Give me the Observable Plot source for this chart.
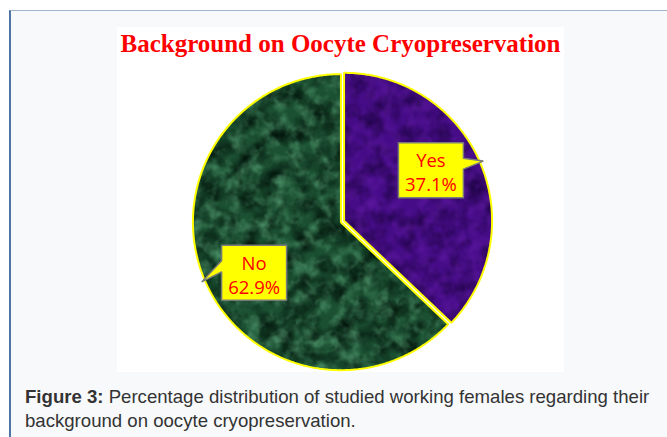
<!DOCTYPE html>
<html><head><meta charset="utf-8">
<script src="https://cdn.jsdelivr.net/npm/d3@7"></script>
<script src="https://cdn.jsdelivr.net/npm/@observablehq/plot@0.6"></script>
<style>
html,body{margin:0;padding:0;background:#fff;width:667px;height:437px;overflow:hidden;position:relative;}
#frame{position:absolute;left:9px;top:10px;width:680px;height:440px;border-left:2px solid #4f76a3;border-top:1px solid #9fb3cc;background:#f8f9fb;}
#card{position:absolute;left:117px;top:27px;width:447px;height:345px;background:#fff;}
#title{height:35px;line-height:33px;text-align:center;font-family:"Liberation Serif","Times New Roman",serif;font-weight:bold;font-size:25px;color:#ff0000;white-space:nowrap;}
#chart svg{display:block;}
#caption{position:absolute;left:25px;top:385px;font-family:"Liberation Sans",Arial,sans-serif;font-size:18.6px;line-height:23.5px;color:#333;white-space:nowrap;}
</style></head>
<body>
<div id="frame"></div>
<div id="card"><div id="title">Background on Oocyte Cryopreservation</div><div id="chart"></div></div>
<div id="caption"><b>Figure 3:</b> Percentage distribution of studied working females regarding their<br>background on oocyte cryopreservation.</div>
<svg width="0" height="0" style="position:absolute;left:0;top:0">
<defs>
<filter id="greenF" x="0" y="0" width="100%" height="100%" color-interpolation-filters="sRGB">
<feTurbulence type="fractalNoise" baseFrequency="0.05" numOctaves="4" seed="11" result="n"/>
<feColorMatrix in="n" type="matrix" values="0 0 0 0 0  0 0 0 0 0.06  0 0 0 0 0.03  1.8 0 0 0 -0.6" result="dark"/>
<feTurbulence type="fractalNoise" baseFrequency="0.07" numOctaves="3" seed="21" result="m"/>
<feColorMatrix in="m" type="matrix" values="0 0 0 0 0.35  0 0 0 0 0.65  0 0 0 0 0.47  1.6 0 0 0 -0.72" result="light"/>
<feTurbulence type="turbulence" baseFrequency="0.025" numOctaves="4" seed="5" result="t"/>
<feColorMatrix in="t" type="matrix" values="0 0 0 0 0.4  0 0 0 0 0.7  0 0 0 0 0.52  -1.6 0 0 0 0.3" result="veins"/>
<feMerge><feMergeNode in="SourceGraphic"/><feMergeNode in="dark"/><feMergeNode in="light"/><feMergeNode in="veins"/></feMerge>
</filter>
<filter id="purpleF" x="0" y="0" width="100%" height="100%" color-interpolation-filters="sRGB">
<feTurbulence type="fractalNoise" baseFrequency="0.06" numOctaves="3" seed="3" result="n"/>
<feColorMatrix in="n" type="matrix" values="0 0 0 0 0.08  0 0 0 0 0  0 0 0 0 0.2  1.4 0 0 0 -0.5" result="dark"/>
<feTurbulence type="fractalNoise" baseFrequency="0.08" numOctaves="2" seed="9" result="m"/>
<feColorMatrix in="m" type="matrix" values="0 0 0 0 0.42  0 0 0 0 0.12  0 0 0 0 0.68  1.2 0 0 0 -0.52" result="light"/>
<feMerge><feMergeNode in="SourceGraphic"/><feMergeNode in="dark"/><feMergeNode in="light"/></feMerge>
</filter>
<pattern id="greenTex" patternUnits="userSpaceOnUse" x="0" y="0" width="447" height="310">
<rect width="447" height="310" fill="#1b5032" filter="url(#greenF)"/>
</pattern>
<pattern id="purpleTex" patternUnits="userSpaceOnUse" x="0" y="0" width="447" height="310">
<rect width="447" height="310" fill="#460c88" filter="url(#purpleF)"/>
</pattern>
</defs>
</svg>
<script>
// ---- data ----
const categories = ["Yes", "No"];
const percentages = [37.1, 62.9];
const valueLabels = ["37.1%", "62.9%"];
const sliceFills = ["url(#purpleTex)", "url(#greenTex)"];

// ---- geometry derived from data ----
const R = 148;           // pie radius in px (matches x/y ranges below)
const px = 1 / R;        // one pixel in data units
const total = d3.sum(percentages);
let acc = 0;
const slices = categories.map((c, i) => {
  const a0 = acc / total * 2 * Math.PI;
  acc += percentages[i];
  const a1 = acc / total * 2 * Math.PI;
  return {category: c, label: valueLabels[i], fill: sliceFills[i], a0, a1, mid: (a0 + a1) / 2};
});

const explode = 1.7 * px;
function slicePoints(s) {
  const ox = explode * Math.sin(s.mid), oy = explode * Math.cos(s.mid);
  const pts = [{x: ox, y: oy}];
  const n = Math.ceil((s.a1 - s.a0) / (Math.PI / 360));
  for (let k = 0; k <= n; k++) {
    const a = s.a0 + (s.a1 - s.a0) * k / n;
    pts.push({x: ox + Math.sin(a), y: oy + Math.cos(a)});
  }
  return pts;
}

const boxW = 65 * px, boxH = 55 * px;
const boxCenter = s => ({x: 0.65 * Math.sin(s.mid), y: 0.88 * Math.cos(s.mid)});
function calloutPoints(s) {
  const tip = {x: 1.035 * Math.sin(s.mid), y: 1.035 * Math.cos(s.mid)};
  const c = boxCenter(s);
  const l = c.x - boxW / 2, r = c.x + boxW / 2, t = c.y + boxH / 2, b = c.y - boxH / 2;
  const bt = c.y + 12 * px, bb = c.y + 1 * px;
  if (tip.x > c.x) {
    return [{x: l, y: t}, {x: r, y: t}, {x: r, y: bt}, tip, {x: r, y: bb}, {x: r, y: b}, {x: l, y: b}];
  }
  return [{x: l, y: t}, {x: r, y: t}, {x: r, y: b}, {x: l, y: b}, {x: l, y: bb}, tip, {x: l, y: bt}];
}

const marks = [];
for (const s of slices) {
  marks.push(Plot.line(slicePoints(s), {x: "x", y: "y", curve: "linear-closed", fill: s.fill, stroke: "#ffff00", strokeWidth: 2, strokeLinejoin: "miter"}));
}
for (const s of slices) {
  marks.push(Plot.line(calloutPoints(s), {x: "x", y: "y", curve: "linear-closed", fill: "#ffff00", stroke: "#7a7a7a", strokeWidth: 1.5, strokeLinejoin: "miter"}));
}
marks.push(Plot.text(slices, {
  x: d => boxCenter(d).x, y: d => boxCenter(d).y,
  text: d => d.category + "\n" + d.label,
  fill: "#ff0000", fontSize: 18.5, fontFamily: "Open Sans", lineHeight: 1.3, dy: 1
}));

const chart = Plot.plot({
  width: 447, height: 310,
  marginLeft: 77, marginRight: 74, marginTop: 11, marginBottom: 3,
  x: {domain: [-1, 1], axis: null},
  y: {domain: [-1, 1], axis: null},
  style: {background: "transparent", overflow: "visible"},
  marks
});
document.getElementById("chart").appendChild(chart);
</script>
</body></html>
